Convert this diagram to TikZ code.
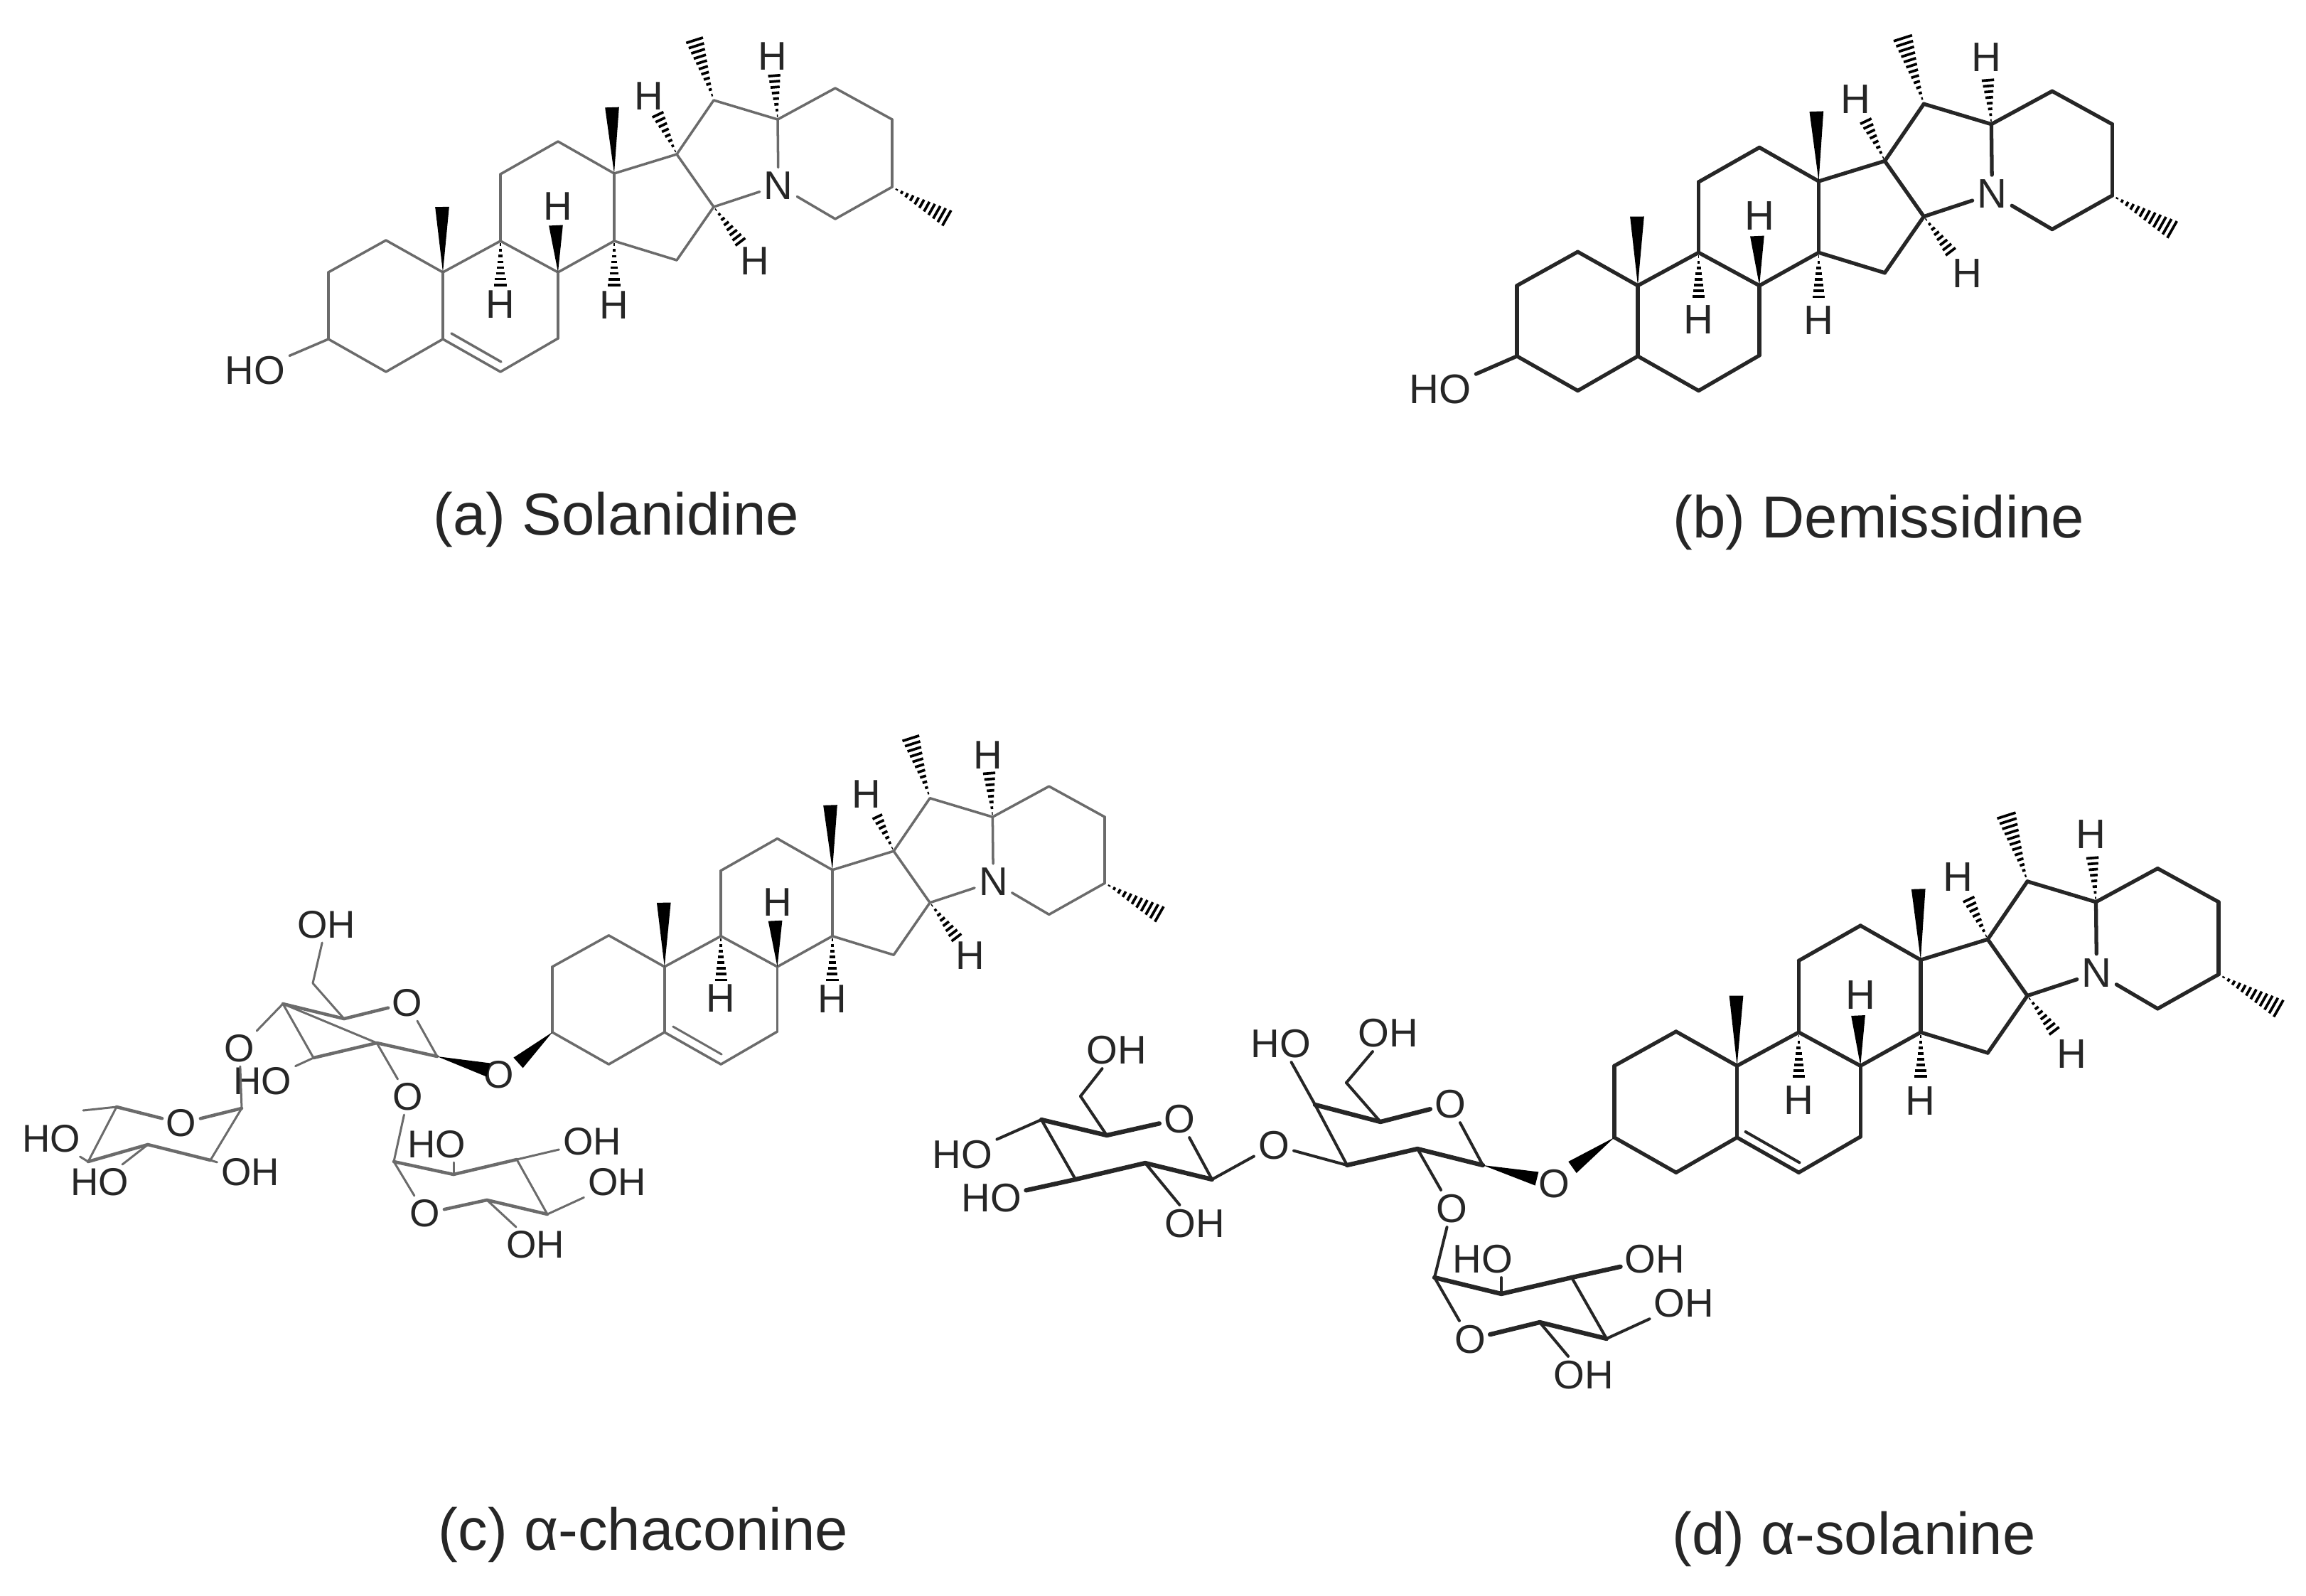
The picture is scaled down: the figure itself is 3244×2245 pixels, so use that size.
\documentclass[tikz,border=0pt]{standalone}
\usepackage{fontspec}
\setmainfont{Liberation Sans}
\usetikzlibrary{calc,decorations.markings}
\tikzset{
	thinmol/.style={color=black!58,line width=1pt,line cap=round,every node/.style={text=black!85,inner sep=1.2pt,font=\fontsize{16}{16}\selectfont}},
	thickmol/.style={color=black!85,line width=1.5pt,line cap=round,every node/.style={text=black!85,inner sep=1.2pt,font=\fontsize{16.5}{16.5}\selectfont}},
	front/.style={line width=1.7pt},
	title/.style={text=black!85,font=\fontsize{23.7}{24}\selectfont},
	hashbond/.style={postaction={decorate},decoration={markings,
		mark=between positions 0.08 and 1 step 2.3pt with {
			\pgfmathsetmacro\hw{0.14*\pgfkeysvalueof{/pgf/decoration/mark info/distance from start}}
			\draw[black,line width=1.05pt,line cap=butt] (0,-\hw pt) -- (0,\hw pt);
		}}},
}
\newcommand{\wedgebond}[2]{\fill[black] (#1) -- ($(#2)!2.8pt!90:(#1)$) -- ($(#2)!2.8pt!-90:(#1)$) -- cycle;}
% #1 prefix, #2 #3 position of C3, #4 size, #5 look
\newcommand{\aglycone}[5]{
	\begin{scope}[shift={(#2,#3)},x=#4*0.01cm,y=-#4*0.01cm,name prefix=#1-,#5]
		\foreach \n/\x/\y in {C3/0/0,C4/81/46,C5/161/0,C6/242/46,C7/323/-1,C8/323/-94,C9/242/-138,C10/161/-94,C1/81/-139,C2/0/-94,C11/242/-232,C12/323/-278,C13/402/-233,C14/402/-138,C15/490/-111,C16/542/-186,C17/490/-260,C20/542/-336,C22/632/-309,C23/713/-353,C24/793/-309,C25/793/-214,C26/713/-169,M18/399/-326,M19/160/-186,T8/320/-160,M21/513/-427,M27/874/-168}
			\coordinate (\n) at (\x,\y);
		\foreach \n/\x/\y/\t in {N/633/-216/N,H8/323/-187/H,H9/242/-49/H,H14/402/-48/H,H17/451/-342/H,H22/625/-398/H,H16/600/-110/H}
			\node (\n) at (\x,\y) {\t};
		\foreach \a/\b in {C1/C2,C2/C3,C3/C4,C4/C5,C5/C10,C10/C1,C5/C6,C6/C7,C7/C8,C8/C9,C9/C10,C9/C11,C11/C12,C12/C13,C13/C14,C14/C8,C13/C17,C17/C16,C16/C15,C15/C14,C17/C20,C20/C22,C22/N,N/C16,C22/C23,C23/C24,C24/C25,C25/C26,C26/N}
			\draw (\a) -- (\b);
		\wedgebond{C13}{M18}
		\wedgebond{C10}{M19}
		\wedgebond{C8}{T8}
		\path[hashbond] (C9) -- (H9);
		\path[hashbond] (C14) -- (H14);
		\path[hashbond] (C17) -- (H17);
		\path[hashbond] (C20) -- (M21);
		\path[hashbond] (C22) -- (H22);
		\path[hashbond] (C16) -- (H16);
		\path[hashbond] (C25) -- (M27);
	\end{scope}
}
\begin{document}
\begin{tikzpicture}[x=0.01cm,y=-0.01cm]
	\useasboundingbox (0,0) rectangle (3244,2245);
	% (a)
	\aglycone{a}{462}{477}{1}{thinmol}
	\begin{scope}[thinmol]
		\node (aHO) at (359,521) {HO};
		\draw (a-C3) -- (aHO);
		\draw ($(a-C5)+(12,-8)$) -- ($(a-C6)+(1,-14)$);
	\end{scope}
	\node[title] (atitle) at (867,731) {(a) Solanidine};
	% (b)
	\aglycone{b}{2134}{501}{1.056}{thickmol}
	\begin{scope}[thickmol]
		\node (bHO) at (2026,548) {HO};
		\draw (b-C3) -- (bHO);
	\end{scope}
	\node[title] (btitle) at (2643,735) {(b) Demissidine};
	% (c)
	\aglycone{c}{777}{1452}{0.98}{thinmol}
	\begin{scope}[thinmol,line width=0.85pt,front/.style={line width=1.3pt},every node/.append style={font=\fontsize{15.5}{15.5}\selectfont}]
		\draw ($(c-C5)+(12,-8)$) -- ($(c-C6)+(1,-14)$);
		\foreach \n/\x/\y/\t in {cGO/573/1411/O,cOg/702/1512/O,cO4/337/1475/O,cO2/574/1543/O,cOH6/459/1301/OH,cHO3/369/1521/HO,cRO/255/1580/O,cRHa/72/1602/HO,cRHb/140/1663/HO,cROH/352/1649/OH,cXO/598/1707/O,cXHO/614/1610/HO,cXa/833/1606/OH,cXb/868/1663/OH,cXc/753/1751/OH}
			\node (\n) at (\x,\y) {\t};
		\foreach \n/\x/\y in {cG1/615/1486,cG2/530/1467,cG3/441/1488,cG4/398/1412,cG5/484/1433,cG6/440/1383,cR1/340/1559,cR2/296/1632,cR3/208/1610,cR4/124/1634,cR5/164/1557,cRM/117/1562,cX1/554/1634,cX2/638/1652,cX3/727/1631,cX4/770/1708,cX5/685/1688}
			\coordinate (\n) at (\x,\y);
		\foreach \a/\b in {cG1/cGO,cG2/cG4,cG3/cG4,cG4/cO4,cG5/cG6,cG6/cOH6,cG3/cHO3,cG2/cO2,cO4/cR1,cR1/cR2,cR2/cROH,cR3/cRHb,cR4/cRHa,cR4/cR5,cR5/cRM,cO2/cX1,cX1/cXO,cX3/cX4,cX3/cXa,cX4/cXb,cX5/cXc}
			\draw (\a) -- (\b);
		\foreach \a/\b in {cG4/cG5,cG5/cGO,cG3/cG2,cG2/cG1,cR5/cRO,cRO/cR1,cR4/cR3,cR3/cR2,cX1/cX2,cX2/cX3,cXO/cX5,cX5/cX4}
			\draw[front] (\a) -- (\b);
		\draw (cX2) -- (cXHO.south -| cX2);
		\coordinate (cTa) at (687,1505);
		\coordinate (cTb) at (729,1495);
		\wedgebond{cG1}{cTa}
		\wedgebond{c-C3}{cTb}
	\end{scope}
	\node[title] (ctitle) at (905,2159) {(c) α-chaconine};
	% (d)
	\aglycone{d}{2271}{1600}{1.072}{thickmol}
	\begin{scope}[thickmol,line width=1.15pt,front/.style={line width=1.8pt},every node/.append style={font=\fontsize{16}{16}\selectfont}]
		\draw ($(d-C5)+(12,-8)$) -- ($(d-C6)+(1,-14)$);
		\foreach \n/\x/\y/\t in {dGO/2040/1553/O,dOg/2186/1665/O,dO2/2042/1700/O,dO4/1792/1611/O,dOH6/1953/1453/OH,dHO4/1802/1468/HO,dLO/1659/1574/O,dLOH6/1571/1477/OH,dLHa/1354/1624/HO,dLHb/1395/1685/HO,dLOH/1681/1721/OH,dXO/2068/1884/O,dXHO/2086/1771/HO,dXa/2328/1771/OH,dXb/2369/1833/OH,dXc/2228/1934/OH}
			\node (\n) at (\x,\y) {\t};
		\foreach \n/\x/\y in {dG1/2086/1639,dG2/1994/1616,dG3/1895/1639,dG4/1850/1554,dG5/1942/1578,dG6/1894/1523,dL1/1705/1659,dL2/1611/1636,dL3/1513/1659,dL4/1465/1575,dL5/1557/1597,dL6/1520/1542,dX1/2018/1797,dX2/2112/1820,dX3/2211/1797,dX4/2260/1883,dX5/2166/1860}
			\coordinate (\n) at (\x,\y);
		\foreach \a/\b in {dG1/dGO,dG2/dO2,dG3/dG4,dG4/dHO4,dG5/dG6,dG6/dOH6,dG3/dO4,dO4/dL1,dL1/dLO,dL2/dLOH,dL3/dL4,dL4/dLHa,dL5/dL6,dL6/dLOH6,dO2/dX1,dX1/dXO,dX3/dX4,dX4/dXb,dX5/dXc}
			\draw (\a) -- (\b);
		\foreach \a/\b in {dG4/dG5,dG5/dGO,dG3/dG2,dG2/dG1,dL4/dL5,dL5/dLO,dL3/dL2,dL2/dL1,dL3/dLHb,dX1/dX2,dX2/dX3,dX3/dXa,dXO/dX5,dX5/dX4}
			\draw[front] (\a) -- (\b);
		\draw (dX2) -- (dXHO.south -| dX2);
		\coordinate (dTa) at (2162,1658);
		\coordinate (dTb) at (2212,1642);
		\wedgebond{dG1}{dTa}
		\wedgebond{d-C3}{dTb}
	\end{scope}
	\node[title] (dtitle) at (2608,2165) {(d) α-solanine};
\end{tikzpicture}
\end{document}
